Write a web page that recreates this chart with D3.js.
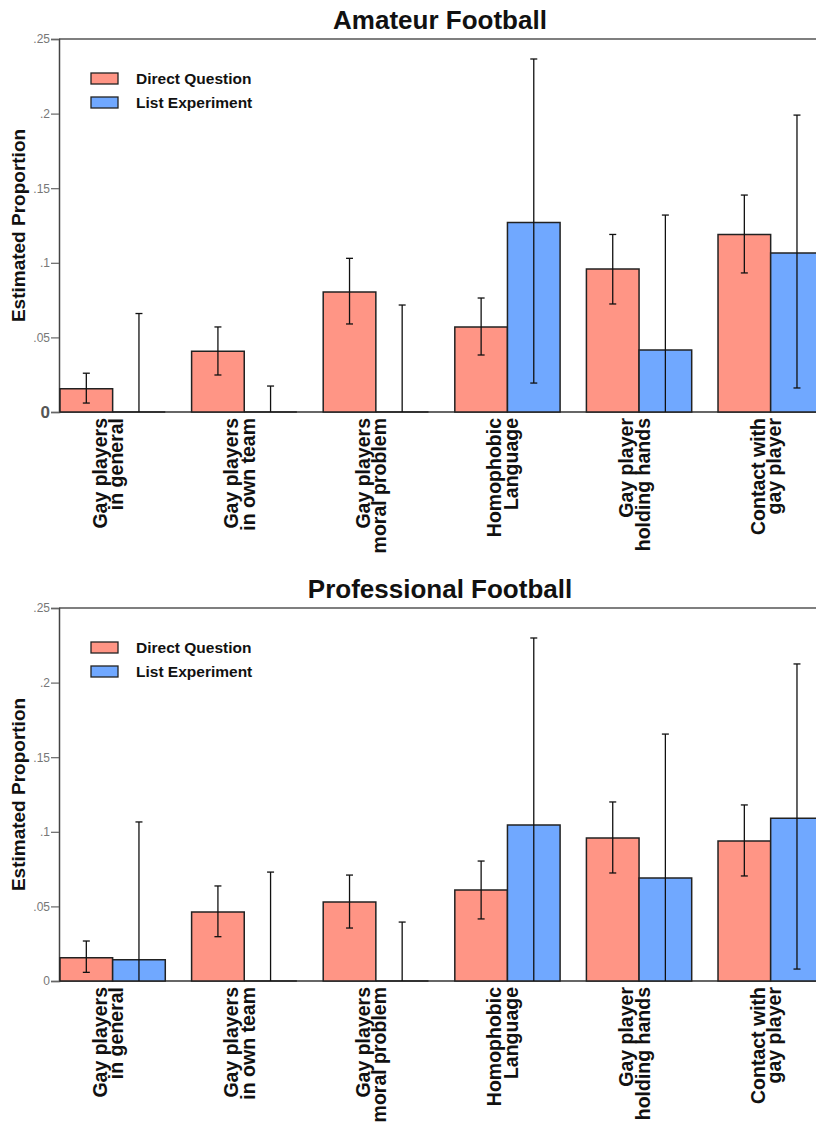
<!DOCTYPE html>
<html>
<head>
<meta charset="utf-8">
<script src="https://cdn.jsdelivr.net/npm/d3@7"></script>
<style>
  body { margin: 0; background: #fff; }
  svg { display: block; font-family: "Liberation Sans", Arial, sans-serif; }
</style>
</head>
<body>
<div id="chart"></div>
<script>
// categories, two lines each
const categories = [
  ["Gay players", "in general"],
  ["Gay players", "in own team"],
  ["Gay players", "moral problem"],
  ["Homophobic", "Language"],
  ["Gay player", "holding hands"],
  ["Contact with", "gay player"],
];
const seriesNames = ["Direct Question", "List Experiment"];
const tickValues = [0, 0.05, 0.1, 0.15, 0.2, 0.25];
const tickLabels = ["0", ".05", ".1", ".15", ".2", ".25"];

// Amateur football: estimate, lower, upper (lower 0 = interval clipped at 0)
const amateurDirect = [0.0156, 0.0407, 0.0804, 0.057, 0.0958, 0.119];
const amateurDirectLo = [0.006, 0.0248, 0.059, 0.0382, 0.0724, 0.0932];
const amateurDirectHi = [0.026, 0.057, 0.103, 0.0764, 0.119, 0.1454];
const amateurList = [0, 0, 0, 0.127, 0.0416, 0.1066];
const amateurListLo = [0, 0, 0, 0.0194, 0, 0.0161];
const amateurListHi = [0.066, 0.0174, 0.0717, 0.2366, 0.132, 0.199];

// Professional football
const proDirect = [0.0156, 0.0462, 0.053, 0.061, 0.0958, 0.0938];
const proDirectLo = [0.0058, 0.0297, 0.0355, 0.0416, 0.0724, 0.0704];
const proDirectHi = [0.0268, 0.0637, 0.071, 0.0804, 0.12, 0.118];
const proList = [0.0143, 0, 0, 0.1046, 0.069, 0.109];
const proListLo = [0, 0, 0, 0, 0, 0.008];
const proListHi = [0.1066, 0.073, 0.0395, 0.2299, 0.1655, 0.2125];

const colors = ["#ff9585", "#70a8ff"];

const width = 816, height = 1124;

const svg = d3.select("#chart")
  .append("svg")
  .attr("width", width)
  .attr("height", height);

function drawPanel(top, title, series, boldZero) {
  const y = d3.scaleLinear([0, 0.25], [top + 373, top]);
  const x = d3.scaleBand(d3.range(categories.length), [60, 823.3])
    .paddingInner(0.2)
    .paddingOuter(0);
  const xs = d3.scaleBand([0, 1], [0, x.bandwidth()]);

  const g = svg.append("g");

  // title
  g.append("text")
    .attr("x", 440)
    .attr("y", top - 10)
    .attr("text-anchor", "middle")
    .attr("font-size", 26)
    .attr("font-weight", "bold")
    .attr("fill", "#111")
    .text(title);

  // frame: top border and left axis
  g.append("line")
    .attr("x1", 59).attr("x2", width)
    .attr("y1", y(0.25)).attr("y2", y(0.25))
    .attr("stroke", "#555").attr("stroke-width", 1.5);

  const axis = g.append("g")
    .attr("transform", "translate(59,0)")
    .call(d3.axisLeft(y).tickValues(tickValues).tickSize(8)
      .tickFormat((d, i) => tickLabels[i]));
  axis.select(".domain").attr("stroke", "#444").attr("stroke-width", 1.5);
  axis.selectAll(".tick line").attr("stroke", "#666").attr("stroke-width", 1.2);
  axis.selectAll(".tick text")
    .attr("fill", "#777")
    .attr("font-size", 12)
    .attr("font-family", "Liberation Sans, Arial, sans-serif")
    .attr("x", -9);
  if (boldZero) {
    axis.selectAll(".tick text")
      .filter((d) => d === 0)
      .attr("font-size", 17)
      .attr("font-weight", "bold")
      .attr("fill", "#555");
  }

  // y title
  g.append("text")
    .attr("transform", `translate(25,${(y(0) + y(0.25)) / 2}) rotate(-90)`)
    .attr("text-anchor", "middle")
    .attr("font-size", 19)
    .attr("font-weight", "bold")
    .attr("fill", "#111")
    .text("Estimated Proportion");

  // zero baseline
  g.append("line")
    .attr("x1", 59).attr("x2", width)
    .attr("y1", y(0)).attr("y2", y(0))
    .attr("stroke", "#666").attr("stroke-width", 2);

  // bars (paths, so that zero-height bars still show their outline)
  series.forEach((s, si) => {
    g.append("g")
      .selectAll("path")
      .data(s.values)
      .join("path")
      .attr("d", (d, i) => {
        const x0 = x(i) + xs(si), x1 = x0 + xs.bandwidth();
        return `M${x0},${y(0)}V${y(d)}H${x1}V${y(0)}Z`;
      })
      .attr("fill", colors[si])
      .attr("stroke", "#222")
      .attr("stroke-width", 1.5);
  });

  // error bars
  const cap = 3.5;
  series.forEach((s, si) => {
    const eb = g.append("g")
      .selectAll("g")
      .data(s.values.map((v, i) => ({ i, v, lo: s.lo[i], hi: s.hi[i] })))
      .join("g")
      .attr("stroke", "#111")
      .attr("stroke-width", 1.3);
    const cx = (d) => x(d.i) + xs(si) + xs.bandwidth() / 2;
    eb.append("line")
      .attr("x1", cx).attr("x2", cx)
      .attr("y1", (d) => y(d.lo)).attr("y2", (d) => y(d.hi));
    eb.append("line")
      .attr("x1", (d) => cx(d) - cap).attr("x2", (d) => cx(d) + cap)
      .attr("y1", (d) => y(d.hi)).attr("y2", (d) => y(d.hi));
    eb.filter((d) => d.lo > 0)
      .append("line")
      .attr("x1", (d) => cx(d) - cap).attr("x2", (d) => cx(d) + cap)
      .attr("y1", (d) => y(d.lo)).attr("y2", (d) => y(d.lo));
  });

  // legend
  const leg = g.append("g")
    .selectAll("g")
    .data(seriesNames)
    .join("g")
    .attr("transform", (d, i) => `translate(91,${top + 34 + i * 24})`);
  leg.append("rect")
    .attr("width", 27).attr("height", 11)
    .attr("fill", (d, i) => colors[i])
    .attr("stroke", "#222").attr("stroke-width", 1.3);
  leg.append("text")
    .attr("x", 45).attr("y", 11)
    .attr("font-size", 15.5)
    .attr("font-weight", "bold")
    .attr("fill", "#111")
    .text((d) => d);

  // category labels
  const lab = g.append("g")
    .selectAll("text")
    .data(categories)
    .join("text")
    .attr("transform", (d, i) =>
      `translate(${x(i) + x.bandwidth() / 2},${y(0) + 6}) rotate(-90)`)
    .attr("text-anchor", "end")
    .attr("font-size", 19.5)
    .attr("font-weight", "bold")
    .attr("fill", "#111");
  lab.selectAll("tspan")
    .data((d) => d)
    .join("tspan")
    .attr("x", 0)
    .attr("y", (d, j) => (j === 0 ? -6 : 10.5))
    .text((d) => d);
}

drawPanel(39, "Amateur Football", [
  { values: amateurDirect, lo: amateurDirectLo, hi: amateurDirectHi },
  { values: amateurList, lo: amateurListLo, hi: amateurListHi },
], true);

drawPanel(608, "Professional Football", [
  { values: proDirect, lo: proDirectLo, hi: proDirectHi },
  { values: proList, lo: proListLo, hi: proListHi },
], false);
</script>
</body>
</html>
